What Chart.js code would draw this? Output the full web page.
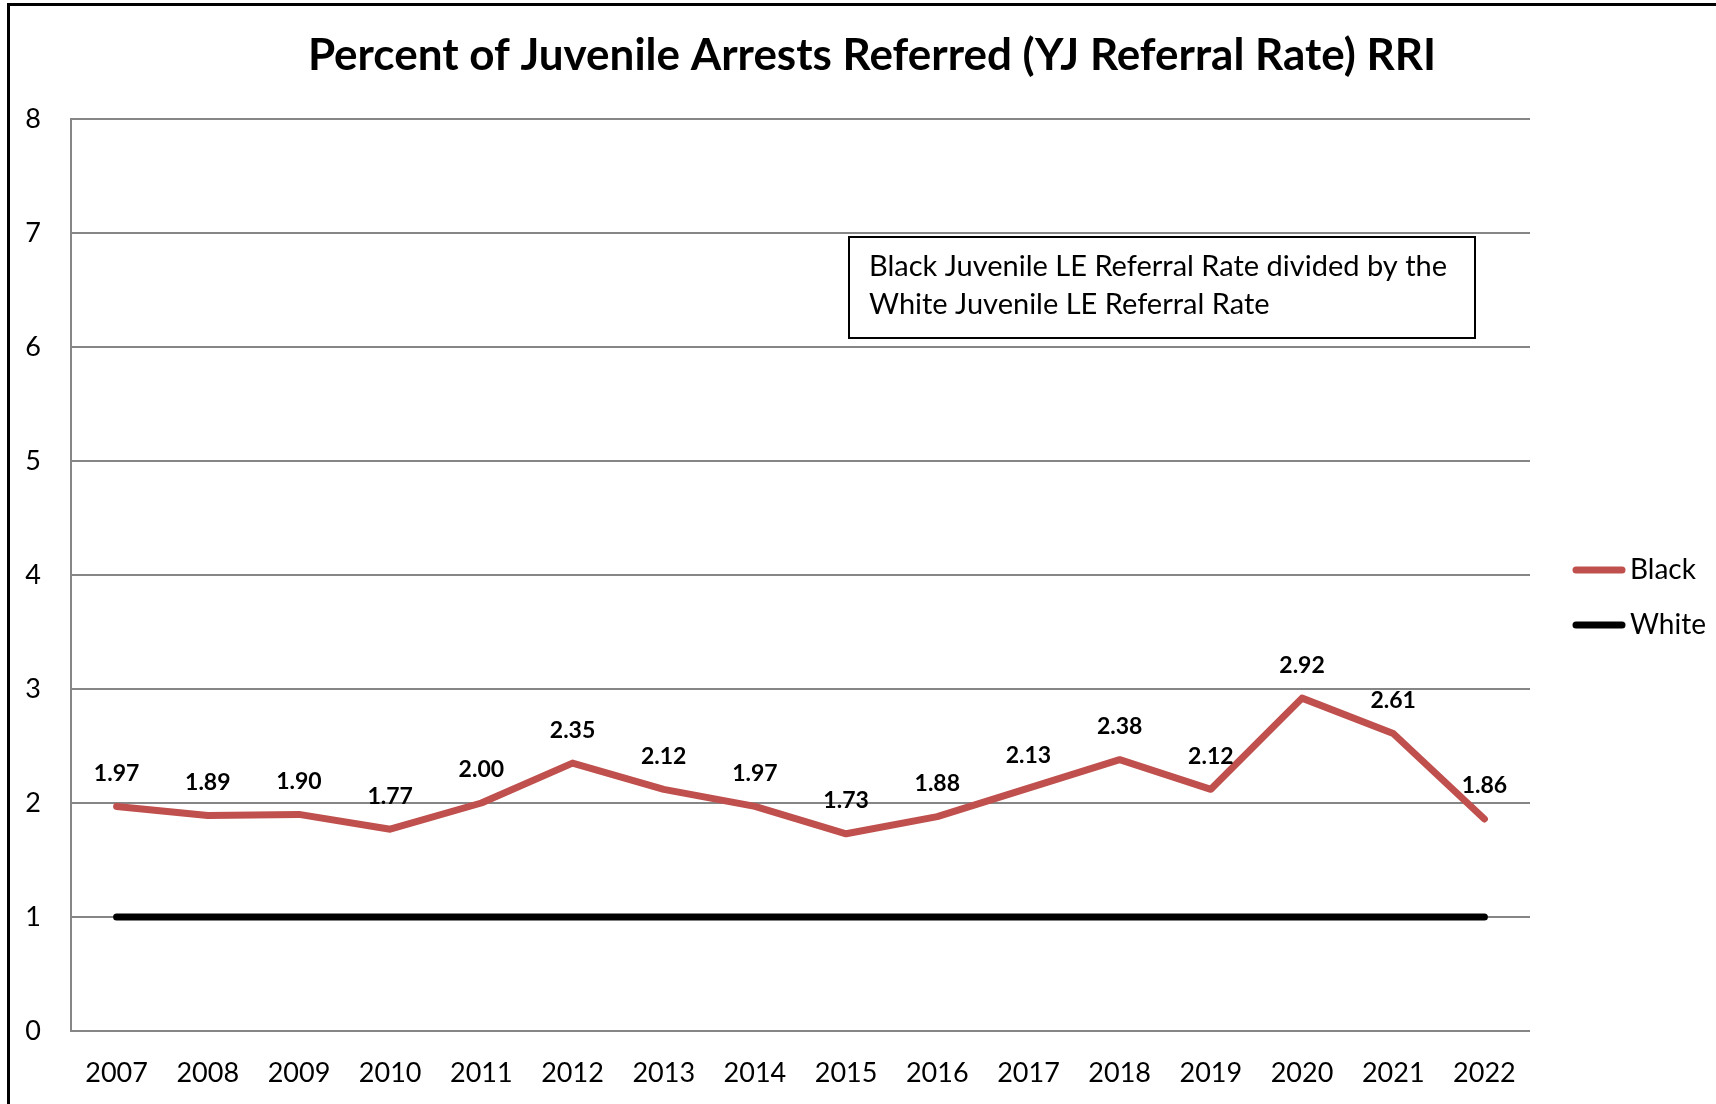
<!DOCTYPE html>
<html>
<head>
<meta charset="utf-8">
<script src="https://cdn.jsdelivr.net/npm/chart.js@4/dist/chart.umd.min.js"></script>
<style>
  html, body { margin: 0; padding: 0; background: #fff; }
  #wrap { width: 1716px; height: 1104px; position: relative; }
</style>
</head>
<body>
<div id="wrap"><canvas id="rriChart" width="1716" height="1104"></canvas></div>
<script>
// data
const years = ["2007", "2008", "2009", "2010", "2011", "2012", "2013", "2014",
  "2015", "2016", "2017", "2018", "2019", "2020", "2021", "2022"];
const blackRRI = [1.97, 1.89, 1.90, 1.77, 2.00, 2.35, 2.12, 1.97,
  1.73, 1.88, 2.13, 2.38, 2.12, 2.92, 2.61, 1.86];
const whiteRRI = [1, 1, 1, 1, 1, 1, 1, 1, 1, 1, 1, 1, 1, 1, 1, 1];
const yTicks = [0, 1, 2, 3, 4, 5, 6, 7, 8];

const chartTitle = "Percent of Juvenile Arrests Referred (YJ Referral Rate) RRI";
const noteLines = ["Black Juvenile LE Referral Rate divided by the",
  "White Juvenile LE Referral Rate"];

const FONT = "Lato, 'Open Sans', sans-serif";

// frame, title, note box, value labels and legend
const decorPlugin = {
  id: "decor",
  afterDraw(chart) {
    const ctx = chart.ctx;
    ctx.save();

    // outer frame (only top and left are visible in the picture)
    ctx.strokeStyle = "#000";
    ctx.lineWidth = 3;
    ctx.beginPath();
    ctx.moveTo(8.5, 1104);
    ctx.lineTo(8.5, 4.5);
    ctx.lineTo(1716, 4.5);
    ctx.stroke();

    // title
    ctx.fillStyle = "#000";
    ctx.font = "bold 44px " + FONT;
    ctx.textAlign = "center";
    ctx.textBaseline = "middle";
    ctx.fillText(chartTitle, 872, 56);

    // note box
    const bx = 849, by = 237, bw = 626, bh = 101;
    ctx.fillStyle = "#fff";
    ctx.fillRect(bx, by, bw, bh);
    ctx.lineWidth = 2;
    ctx.strokeStyle = "#000";
    ctx.strokeRect(bx, by, bw, bh);
    ctx.fillStyle = "#000";
    ctx.font = "29px " + FONT;
    ctx.textAlign = "left";
    noteLines.forEach((t, i) => ctx.fillText(t, 869, 267 + i * 38));

    // value labels above the Black line
    const meta = chart.getDatasetMeta(0);
    ctx.font = "bold 23px " + FONT;
    ctx.textAlign = "center";
    meta.data.forEach((pt, i) => {
      ctx.fillText(blackRRI[i].toFixed(2), pt.x, pt.y - 33);
    });

    // legend
    const ds = chart.data.datasets;
    ctx.lineCap = "round";
    ctx.font = "28px " + FONT;
    ctx.textAlign = "left";
    [570, 625].forEach((y, i) => {
      ctx.strokeStyle = ds[i].borderColor;
      ctx.lineWidth = 7;
      ctx.beginPath();
      ctx.moveTo(1576, y);
      ctx.lineTo(1622, y);
      ctx.stroke();
      ctx.fillStyle = "#000";
      ctx.fillText(ds[i].label, 1630, y);
    });

    ctx.restore();
  }
};

const ctx = document.getElementById("rriChart").getContext("2d");
new Chart(ctx, {
  type: "line",
  data: {
    labels: years,
    datasets: [
      {
        label: "Black",
        data: blackRRI,
        borderColor: "#C0504D",
        backgroundColor: "#C0504D",
        borderWidth: 7,
        pointRadius: 0,
        borderCapStyle: "round",
        borderJoinStyle: "round",
        tension: 0,
      },
      {
        label: "White",
        data: whiteRRI,
        borderColor: "#000000",
        backgroundColor: "#000000",
        borderWidth: 7,
        pointRadius: 0,
        borderCapStyle: "round",
        borderJoinStyle: "round",
        tension: 0,
      },
    ],
  },
  options: {
    responsive: false,
    animation: false,
    devicePixelRatio: 1,
    layout: { padding: { left: 0, top: 119, right: 186, bottom: 0 } },
    plugins: {
      legend: { display: false },
      title: { display: false },
      tooltip: { enabled: false },
    },
    scales: {
      x: {
        offset: true,
        grid: { display: false, drawTicks: false },
        border: { display: false },
        ticks: {
          color: "#000",
          padding: 26,
          maxRotation: 0,
          autoSkip: false,
          font: { family: FONT, size: 27 },
        },
        afterFit(scale) { scale.height = 73; },
      },
      y: {
        min: 0,
        max: 8,
        afterBuildTicks(scale) {
          scale.ticks = yTicks.map((v) => ({ value: v }));
        },
        grid: { color: "#868686", lineWidth: 2, drawTicks: false },
        border: { display: true, color: "#868686", width: 2 },
        ticks: {
          color: "#000",
          padding: 30,
          font: { family: FONT, size: 27 },
        },
        afterFit(scale) { scale.width = 71; },
      },
    },
  },
  plugins: [decorPlugin],
});
</script>
</body>
</html>
